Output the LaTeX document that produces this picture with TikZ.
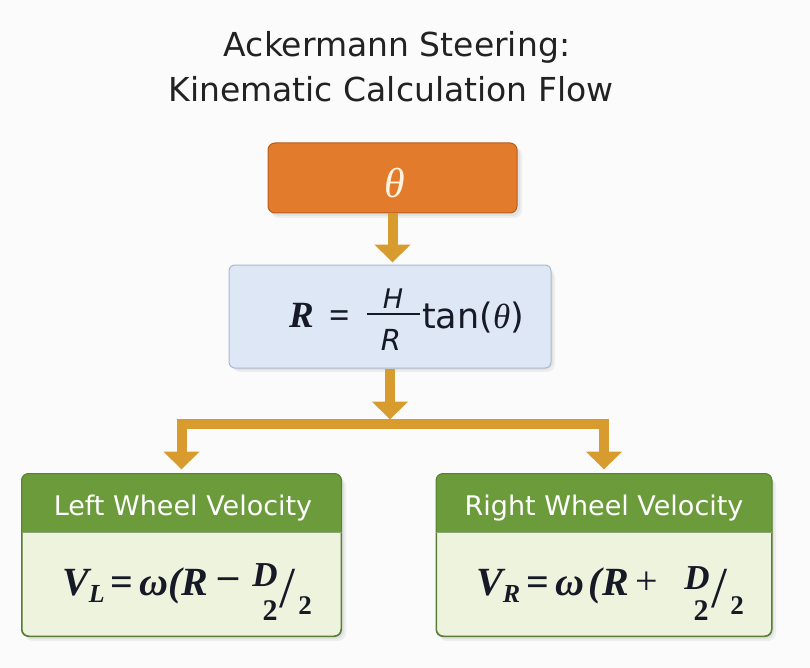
\documentclass[tikz,border=0pt]{standalone}
\usepackage{fontspec}
\setsansfont{DejaVu Sans}
\newfontfamily\tms{Liberation Serif}
\usetikzlibrary{arrows.meta,calc}
\definecolor{bgc}{HTML}{FBFBFB}
\definecolor{orfill}{HTML}{E27B2B}
\definecolor{ordraw}{HTML}{B55E1C}
\definecolor{thetac}{HTML}{FFF3E2}
\definecolor{goldc}{HTML}{D89B2E}
\definecolor{bluefill}{HTML}{DDE7F5}
\definecolor{bluedraw}{HTML}{A9B9CF}
\definecolor{greenhead}{HTML}{6C9B3B}
\definecolor{greendraw}{HTML}{587F34}
\definecolor{greenbody}{HTML}{EEF3DD}
\definecolor{textc}{HTML}{222222}
\definecolor{mathc}{HTML}{151A26}
\newcommand\fs[1]{\fontsize{#1}{#1}\selectfont}
\newcommand\bis[1]{{\bfseries\itshape #1}}
\begin{document}
\begin{tikzpicture}[x=1pt,y=-1pt,
  flow/.style={draw=goldc,line width=10pt,-{Triangle[width=35pt,length=18pt]},shorten >=4pt},
  shadowbox/.style={fill=black,opacity=0.05,rounded corners=8pt},
  headtxt/.style={text=white,anchor=base,inner sep=0pt,font=\sffamily\fs{27}},
  titletxt/.style={text=textc,anchor=base,inner sep=0pt,font=\sffamily\fs{33}},
  bi/.style={text=mathc,inner sep=0pt,font=\tms\bfseries\itshape\fs{#1}},
  rg/.style={text=mathc,inner sep=0pt,font=\tms\fs{#1}},
  bd/.style={text=mathc,inner sep=0pt,font=\tms\bfseries\fs{#1}}]
\useasboundingbox[fill=bgc] (0,0) rectangle (810,668);
% title
\node[titletxt] (title1) at (397,57) {Ackermann Steering:};
\node[titletxt] (title2) at (391,102) {Kinematic Calculation Flow};
% theta box
\fill[shadowbox] (270,146) rectangle (520,216);
\fill[shadowbox] (271,147) rectangle (522,218);
\node[draw=ordraw,fill=orfill,line width=1pt,rounded corners=7pt,minimum width=249pt,minimum height=70pt] (theta) at (392.5,178) {};
\node[text=thetac,inner sep=0pt,font=\tms\itshape\fs{42}] (thetatxt) at (395,183) {θ};
% formula box
\fill[shadowbox] (231,268) rectangle (553,370);
\fill[shadowbox] (232,269) rectangle (555,372);
\node[draw=bluedraw,fill=bluefill,line width=1pt,rounded corners=6pt,minimum width=322pt,minimum height=103pt] (formula) at (390,316.5) {};
\node[bi=37,anchor=base west] (fR) at (289,327) {R};
\node[bd=36,anchor=base west] (feq) at (329,327) {=};
\node[text=mathc,inner sep=0pt,anchor=base,font=\sffamily\itshape\fs{27}] (fH) at (393,308) {H};
\node[text=mathc,inner sep=0pt,anchor=base,font=\sffamily\itshape\fs{29}] (fRd) at (391,350) {R};
\draw[mathc,line width=2.2pt] (367,314) -- (420,314);
\node[text=mathc,inner sep=0pt,anchor=base west,font=\sffamily\fs{35}] (ftan) at (422,328) {tan({\tms\itshape θ})};
% left box
\fill[shadowbox] (24,477) rectangle (344,639);
\fill[shadowbox] (25,478) rectangle (346,641);
\node[draw=greendraw,fill=greenbody,line width=1pt,rounded corners=7pt,minimum width=319pt,minimum height=162pt] (left) at (181.5,555) {};
\begin{scope}
\clip[rounded corners=7pt] (left.north west) rectangle (left.south east);
\fill[greenhead] (left.north west) rectangle ($(left.north east)+(0,59)$);
\end{scope}
\draw[greendraw,line width=1pt,rounded corners=7pt] (left.north west) rectangle (left.south east);
\draw[greendraw!70,line width=0.6pt] ($(left.north west)+(0,59)$) -- ($(left.north east)+(0,59)$);
\node[headtxt] (lhead) at (183,515) {Left Wheel Velocity};
\node[bd=40,anchor=base west] (lmain) at (62,595)
  {\bis{V}\raisebox{-7pt}{\fs{26}\bis{L}}\hspace{6pt}=\hspace{6pt}\bis{ω(R}};
\node[bd=40] (lmin) at (228,583) {–};
\node[bi=35] (lD) at (265,575) {D};
\node[bd=30] (l2a) at (270,611) {2};
\node[rg=58] (lsl) at (288,589) {/};
\node[bd=27] (l2b) at (305,606) {2};
% right box
\fill[shadowbox] (438,477) rectangle (774,639);
\fill[shadowbox] (439,478) rectangle (776,641);
\node[draw=greendraw,fill=greenbody,line width=1pt,rounded corners=7pt,minimum width=335pt,minimum height=162pt] (right) at (604,555) {};
\begin{scope}
\clip[rounded corners=7pt] (right.north west) rectangle (right.south east);
\fill[greenhead] (right.north west) rectangle ($(right.north east)+(0,59)$);
\end{scope}
\draw[greendraw,line width=1pt,rounded corners=7pt] (right.north west) rectangle (right.south east);
\draw[greendraw!70,line width=0.6pt] ($(right.north west)+(0,59)$) -- ($(right.north east)+(0,59)$);
\node[headtxt] (rhead) at (604,515) {Right Wheel Velocity};
\node[bd=40,anchor=base west] (rmain) at (476,595)
  {\bis{V}\raisebox{-7pt}{\fs{26}\bis{R}}\hspace{6pt}=\hspace{6pt}\bis{ω}\hspace{5pt}\bis{(R}};
\node[rg=40] (rplus) at (647,583) {+};
\node[bi=35] (rD) at (697,578) {D};
\node[bd=30] (r2a) at (701,611) {2};
\node[rg=58] (rsl) at (720,589) {/};
\node[bd=27] (r2b) at (737,606) {2};
% connectors
\coordinate (jn) at (390,424);
\draw[flow,shorten >=2pt] (theta.south) -- (theta.south |- formula.north);
\draw[flow,shorten >=4.5pt] (formula.south) -- (jn);
\draw[flow,line join=miter] (jn) -| (left.north);
\draw[flow,line join=miter] (jn) -| (right.north);
\end{tikzpicture}
\end{document}
